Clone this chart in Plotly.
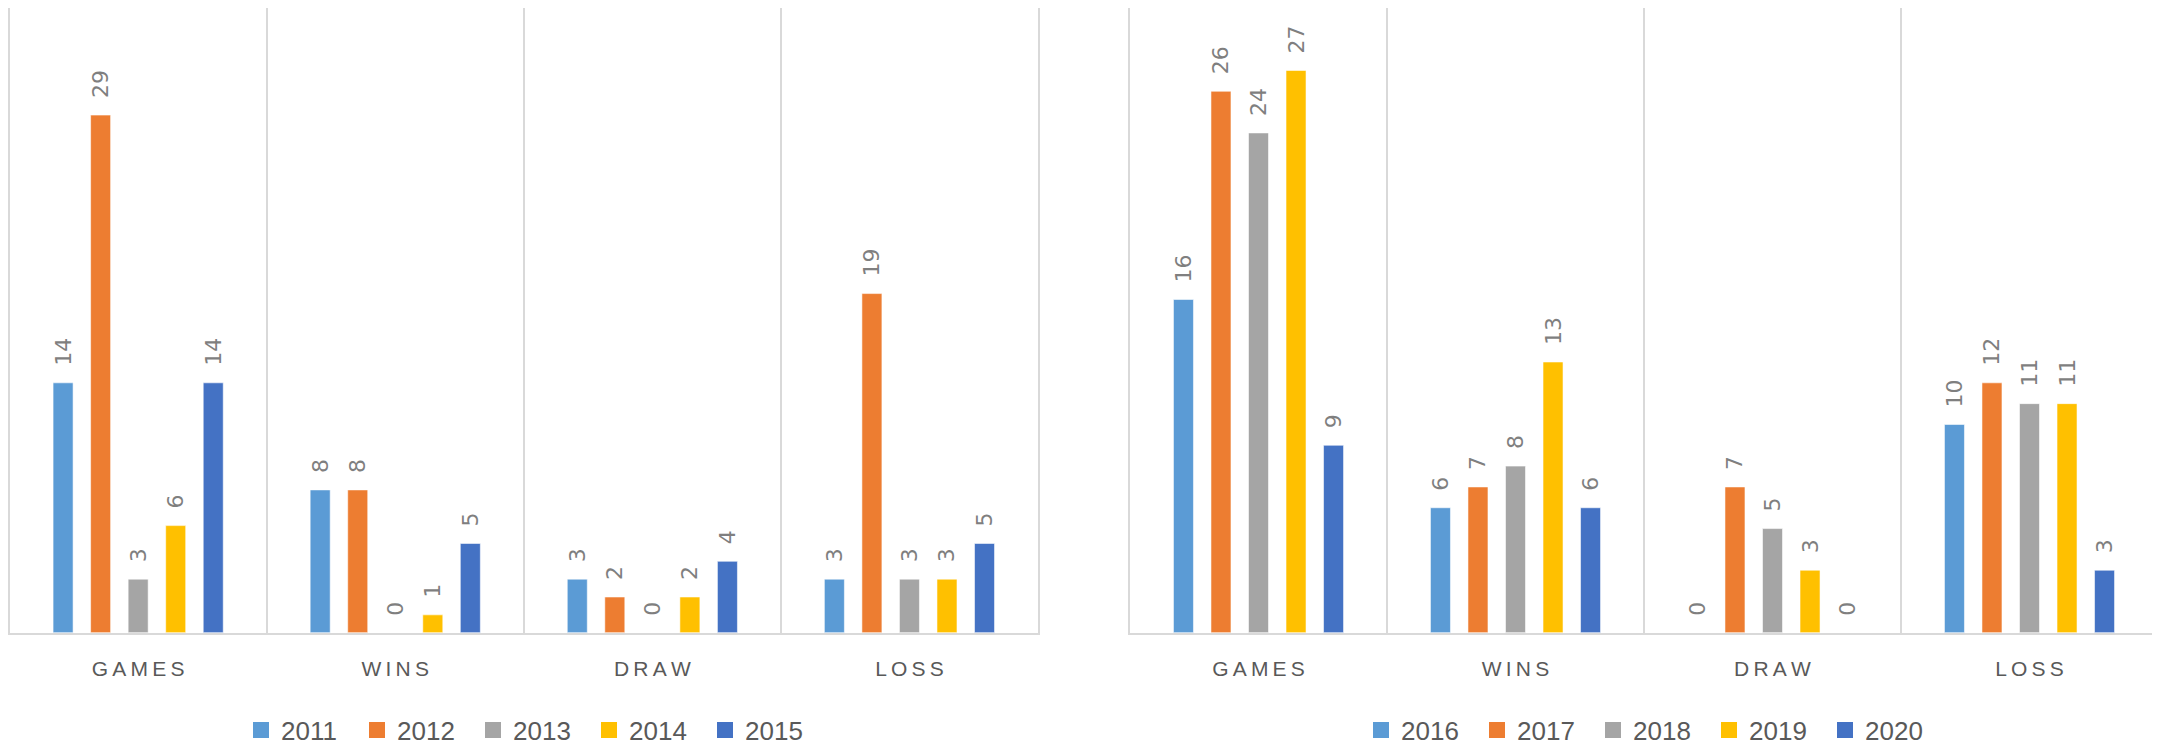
import plotly.graph_objects as go

# ---------------- data ----------------
categories = ["GAMES", "WINS", "DRAW", "LOSS"]
tick_labels = ["G\u2009A\u2009M\u2009E\u2009S", "W\u2009I\u2009N\u2009S", "D\u2009R\u2009A\u2009W", "L\u2009O\u2009S\u2009S"]

years_left = ["2011", "2012", "2013", "2014", "2015"]
years_right = ["2016", "2017", "2018", "2019", "2020"]

v2011 = [14, 8, 3, 3]
v2012 = [29, 8, 2, 19]
v2013 = [3, 0, 0, 3]
v2014 = [6, 1, 2, 3]
v2015 = [14, 5, 4, 5]

v2016 = [16, 6, 0, 10]
v2017 = [26, 7, 7, 12]
v2018 = [24, 8, 5, 11]
v2019 = [27, 13, 3, 11]
v2020 = [9, 6, 0, 3]

series_colors = ["#5B9BD5", "#ED7D31", "#A5A5A5", "#FFC000", "#4472C4"]

left_values = [v2011, v2012, v2013, v2014, v2015]
right_values = [v2016, v2017, v2018, v2019, v2020]

# ---------------- figure ----------------
# the page body has an 8px default margin, so the figure is drawn 8px smaller
OFF = 8
W, H = 2160 - OFF, 746 - OFF
fig = go.Figure()

LABEL_FONT = dict(family="DejaVu Sans", size=22, color="#7F7F7F")
PAD = "\u00a0\u00a0"


def add_side(names, values, xa, ya, legend_name):
    for name, vals, col in zip(names, values, series_colors):
        fig.add_trace(go.Bar(
            x=categories, y=vals, name=name,
            marker=dict(color=col, line=dict(color="rgba(255,255,255,0.55)", width=1)),
            text=[PAD + str(v) for v in vals],
            textposition="outside", textangle=-90,
            outsidetextfont=LABEL_FONT, cliponaxis=False,
            constraintext="none",
            xaxis=xa, yaxis=ya, showlegend=False, hoverinfo="skip",
        ))
    for name, col in zip(names, series_colors):
        fig.add_trace(go.Scatter(
            x=[None], y=[None], mode="markers", name=name,
            marker=dict(symbol="square", size=16, color=col),
            xaxis=xa, yaxis=ya, legend=legend_name, showlegend=True,
        ))


add_side(years_left, left_values, "x", "y", "legend")
add_side(years_right, right_values, "x2", "y2", "legend2")

GRID = "#D9D9D9"
y_dom = [(H - (632.7 - OFF)) / H, 1.0]

xaxis_common = dict(
    type="category", categoryorder="array", categoryarray=categories,
    tickmode="array", tickvals=categories, ticktext=tick_labels,
    tickson="boundaries", showgrid=True, gridcolor=GRID, gridwidth=1.5,
    showline=True, linecolor=GRID, linewidth=2, ticks="",
    tickfont=dict(family="Liberation Sans", size=21, color="#595959"),
    ticklabelstandoff=16, zeroline=False, fixedrange=True, automargin=False,
)
yaxis_common = dict(
    showticklabels=False, showgrid=False, zeroline=False,
    showline=True, mirror=True, linecolor=GRID, linewidth=1.5,
    ticks="", domain=y_dom, fixedrange=True, automargin=False,
)

legend_common = dict(
    orientation="h", yanchor="middle", y=(H - (730 - OFF)) / H, xanchor="left",
    font=dict(family="Liberation Sans", size=26, color="#595959"),
    entrywidth=71, entrywidthmode="pixels", bgcolor="rgba(0,0,0,0)",
    itemclick=False, itemdoubleclick=False,
)

fig.update_layout(
    width=W, height=H,
    margin=dict(l=0, r=0, t=0, b=0, autoexpand=False),
    paper_bgcolor="white", plot_bgcolor="white",
    barmode="group", bargap=0.27, bargroupgap=0.467,
    xaxis=dict(domain=[(9.6 - OFF) / W, (1038 - OFF) / W], **xaxis_common),
    xaxis2=dict(domain=[(1130 - OFF) / W, (2158 - OFF) / W], anchor="y2", **xaxis_common),
    yaxis=dict(range=[0, 35], anchor="x", **yaxis_common),
    yaxis2=dict(range=[0, 30], anchor="x2", **yaxis_common),
    legend=dict(x=(261 - 20 - OFF) / W, **legend_common),
    legend2=dict(x=(1381 - 20 - OFF) / W, **legend_common),
    showlegend=True,
)

fig.write_html("out.html")
